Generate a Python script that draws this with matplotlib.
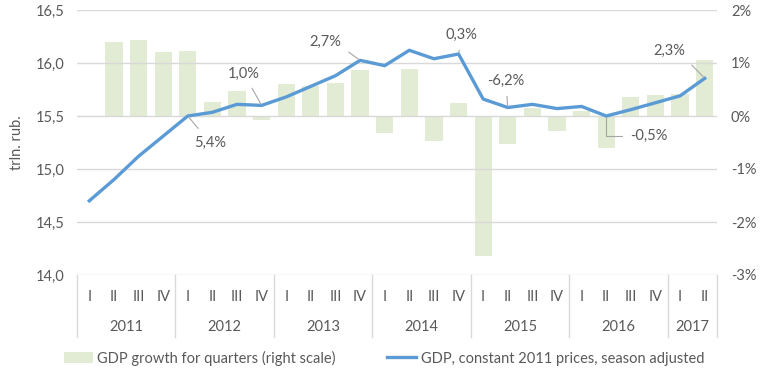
import numpy as np
import matplotlib
matplotlib.use("Agg")
import matplotlib.pyplot as plt
from matplotlib.ticker import FuncFormatter, MultipleLocator
import matplotlib.transforms as mtransforms
from matplotlib.patches import Patch
from matplotlib.lines import Line2D

plt.rcParams['font.family'] = ['Lato', 'DejaVu Sans']

years = ["2011", "2012", "2013", "2014", "2015", "2016", "2017"]
quarters_per_year = [4, 4, 4, 4, 4, 4, 2]
quarter_names = ["I", "II", "III", "IV"]

# GDP, constant 2011 prices, season adjusted (trln. rub.)
gdp = [14.70, 14.90, 15.12, 15.31, 15.50, 15.535, 15.61, 15.60,
       15.68, 15.78, 15.88, 16.025, 15.975, 16.12, 16.04, 16.085,
       15.66, 15.58, 15.61, 15.57, 15.59, 15.50, 15.56, 15.625,
       15.69, 15.855]

# GDP growth for quarters, % (first quarter has no value)
growth = [np.nan, 1.40, 1.43, 1.21, 1.23, 0.27, 0.48, -0.07,
          0.60, 0.57, 0.62, 0.87, -0.33, 0.89, -0.48, 0.25,
          -2.65, -0.53, 0.16, -0.28, 0.09, -0.60, 0.36, 0.40,
          0.42, 1.06]

# annotations: point index, label, label position, alignment, leader style
notes = [
    (4, "5,4%", (4.90, 15.25), "center", "arc3"),
    (7, "1,0%", (6.28, 15.90), "center", "arc3"),
    (11, "2,7%", (10.24, 16.20), "right", "arc,angleA=0,armA=9,angleB=0,armB=0,rad=0"),
    (15, "0,3%", (15.13, 16.265), "center", "arc3"),
    (17, "-6,2%", (16.92, 15.83), "center", "arc3"),
    (21, "-0,5%", (21.96, 15.31), "left", "angle,angleA=0,angleB=90,rad=0"),
    (25, "2,3%", (24.22, 16.11), "right", "arc,angleA=0,armA=9,angleB=0,armB=0,rad=0"),
]

TEXT = "#595959"
GRID = "#d9d9d9"
BAR = "#e2ebd3"
LINE = "#5b9bd5"
LEADER = "#a6a6a6"
FS = 10.5

n = len(gdp)
x = np.arange(n)

fig = plt.figure(figsize=(7.6, 3.84), dpi=100)
ax = fig.add_axes([77 / 760, 1 - 275 / 384, (717 - 77) / 760, 265 / 384])
ax2 = ax.twinx()

ax2.bar(x, growth, width=0.7, color=BAR, zorder=1)
ax2.set_ylim(-3, 2)
ax2.yaxis.set_major_locator(MultipleLocator(1))
ax2.yaxis.set_major_formatter(FuncFormatter(lambda v, p: f"{v:.0f}%"))

ax.plot(x, gdp, color=LINE, lw=2.4, solid_joinstyle="round", zorder=3)
ax.set_ylim(14.0, 16.5)
ax.yaxis.set_major_locator(MultipleLocator(0.5))
ax.yaxis.set_major_formatter(FuncFormatter(lambda v, p: f"{v:.1f}".replace(".", ",")))
ax.set_xlim(-0.5, n - 0.5)
ax.set_xticks([])
ax.grid(axis="y", color=GRID, lw=1)
ax.set_axisbelow(True)
ax.set_zorder(ax2.get_zorder() + 1)
ax.patch.set_visible(False)
ax2.grid(False)

for a in (ax, ax2):
    for s in a.spines.values():
        s.set_visible(False)
    a.tick_params(length=0, labelsize=FS, colors=TEXT)
ax.tick_params(axis="y", pad=9)
ax2.tick_params(axis="y", pad=10)
ax.set_ylabel("trln. rub.", color=TEXT, fontsize=FS, labelpad=8)

for idx, label, (tx, ty), ha, cs in notes:
    ax.annotate(label, xy=(idx, gdp[idx]), xytext=(tx, ty),
                ha=ha, va="center", fontsize=FS, color=TEXT,
                arrowprops=dict(arrowstyle="-", color=LEADER, lw=0.8,
                                connectionstyle=cs, shrinkA=4, shrinkB=1))

# multi-level category axis
trans = mtransforms.blended_transform_factory(ax.transData, ax.transAxes)
pos = 0
bounds = [-0.5]
for yr, nq in zip(years, quarters_per_year):
    for q in range(nq):
        ax.text(pos + q, -0.083, quarter_names[q], transform=trans,
                ha="center", va="center", fontsize=FS, color=TEXT)
    ax.text(pos + (nq - 1) / 2, -0.196, yr, transform=trans,
            ha="center", va="center", fontsize=FS, color=TEXT)
    pos += nq
    bounds.append(pos - 0.5)
for b in bounds:
    ax.plot([b, b], [0, -0.234], transform=trans, color=GRID, lw=1, clip_on=False)

handles = [Patch(facecolor=BAR, edgecolor="none"),
           Line2D([0], [0], color=LINE, lw=2.4)]
labels = ["GDP growth for quarters (right scale)",
          "GDP, constant 2011 prices, season adjusted"]
fig.legend(handles, labels, loc="center", bbox_to_anchor=(0.5 + 4 / 760, 1 - 358 / 384),
           ncol=2, frameon=False, fontsize=FS, labelcolor=TEXT,
           columnspacing=3.5, handlelength=2.0, handletextpad=0.3)

fig.savefig("out.png", dpi=100)
